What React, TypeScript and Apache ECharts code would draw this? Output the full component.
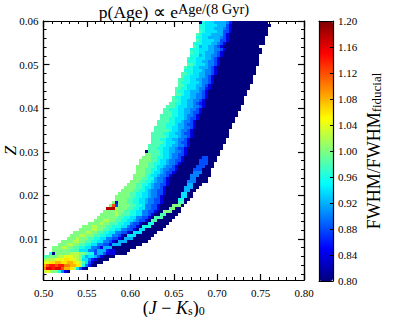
import React, { useEffect, useRef } from "react";
import * as echarts from "echarts";

const FONT = "'Liberation Serif', serif";
const INK = "#000";

const xTicks = { min: 0.5, max: 0.8, interval: 0.05 };
const zRange = { min: 0.0006, max: 0.06 };
const zMajorTicks = [0.01, 0.02, 0.03, 0.04, 0.05, 0.06];
const zMinorTicks = [
  0.002, 0.004, 0.006, 0.008, 0.012, 0.014, 0.016, 0.018, 0.022, 0.024, 0.026, 0.028,
  0.032, 0.034, 0.036, 0.038, 0.042, 0.044, 0.046, 0.048, 0.052, 0.054, 0.056, 0.058,
];
const ratioTicks = { min: 0.8, max: 1.2, interval: 0.04 };
const jet = ["#00007f", "#0000ff", "#007fff", "#00ffff", "#7fff7f", "#ffff00", "#ff7f00", "#ff0000", "#7f0000"];

// FWHM ratio levels: a=0.80, b=0.82, ... u=1.20
const levelCodes = "abcdefghijklmnopqrstu";
const columnCount = 87;
const rowCount = 259 / 3;

// Each row, top to bottom: first filled column, then run-length coded levels.
const rows: [number, string][] = [
  [52, "a1i1h3g4f1d1a12"], [52, "i2h4g3e1c1a13"], [52, "i2h3g3f1e1c1a12"], [52, "j1i1h4g2e2c1a12"],
  [51, "j1i1h3g4e1c1a13"], [51, "i2h2g4f1e1c1a12"], [51, "j1i1h4g2e2c1a12"], [50, "i3h3g2f1e1c1a13"],
  [50, "j1i1g1h2g2f1e1c1a12"], [49, "i3h3g2f2e1c1a12"], [49, "j1i2h2g3f1e1c1a13"], [49, "i3g1h1g2f2e1c1a12"],
  [48, "j1i2h3g2f1e1c1a13"], [48, "i3h2g2f2e1c1a13"], [48, "j2i1h3g1f2e1c1a13"], [47, "j1i2h2g3f1e1c1a13"],
  [47, "i3h3g1f2e1c1a13"], [46, "j2i2h2g2f2e1c1a13"], [46, "j1i2h3g2f1e1c1a13"], [45, "j2i2h2g2f2e1c1a13"],
  [45, "j1i3h3g1f2e1c1a13"], [45, "j2i1h3g2f1e1c1a13"], [44, "j2i2h3g1f2d1c1a13"], [44, "j1i2h2g3f1e1c1a13"],
  [44, "j2i1h2g2f2e1c1a13"], [43, "j1i2h3g2f2e1c1a12"], [43, "j2i1h2g2f2e1c1a13"], [42, "j2i2h2g2f1e1d1c1a13"],
  [41, "j3i1h3g2f2e1c1a12"], [40, "j2i3h2g2f2e1c1a13"], [40, "j3i2h2g2f1e2c1a12"], [39, "j4i2h2g1f2e1c1a13"],
  [39, "j3i2h3g1f1e2c1a12"], [38, "j4i2h2g1f2e1c1a13"], [38, "j3i3h1g2f1e2c1a12"], [37, "j4i2h2g2f2e1c1a12"],
  [37, "j5i1h2g1f2e1c1a12"], [36, "j4i2h2g2f1e2c1a12"], [36, "j5i1h3g1f2e1c1a12"], [36, "j3i2h2g2f2e1c1a12"],
  [36, "j4i1h3g1f1e2c1a12"], [35, "j4i2h2g2f2e1c1a11"], [35, "j3i2h2g2f1e2c1a12"], [34, "a1j4i1h2g2f2e1c1a11"],
  [34, "k2j3i1h2g1f2e2c1a11"], [33, "k3j2i2h2g1f2e1c1a6e2a3"], [32, "k4j2i1h2g1f2e2c1a5e3a3"], [32, "k3j2i2h2g1f2e1c1a6e3a2"],
  [31, "k4j2i1h2g1f2e1c1a6e3a3"], [31, "k3j2i2h1g1f2e2c1a5e3a3"], [31, "k3j2i1h2g1f1e2c1a6f3a3"], [30, "k4j1i1h2g1f2e1c1a6f3a4"],
  [30, "k3j2i2g1f2e1c1a7f2a4"], [29, "k3j2i2h1g1f2e1c1a6f3a4"], [28, "k3j2i2h1g1f2e2c1a6g2a3"], [27, "k4j2i1h2g1f2e1c1a6g3a2"],
  [26, "k4j2i2h1g1f2e2c1a6g2a2"], [25, "k4j2i2h2g1f2e2c1a5h2a2"], [24, "k5j2i2h2g1f2e1c1a6h2a2"], [24, "k4j2i2h2g1f2e2c1a5i2a2"],
  [23, "k1c1k3j2i2h2g1f2e2c1a5j2a1"], [22, "k1q1e1k4j2i2h1f2e2c1a4k3a1"], [21, "t3l1k3j2i2h2f2e2c1a3k2a2"], [20, "k4l1k2j2i2h2f2e2c1a2k3a3"],
  [19, "k5l1k1j3i2h2f2e1c1a2j2a4"], [18, "k7j2i2h2f2e2c1a1j3a4"], [17, "k3l2k2j2i2h2g1f1e2c1a1j2a5"], [15, "k4l1k2j3i2h2f1e2c1a2i2a5"],
  [13, "k3l2k3j2i3h2f1e2c1a1i3a5"], [12, "k4l2k2j2i2h2f2e2c1a1h2a6"], [10, "k4l2k2j2i2h2f2e2c1a1h3a5"], [9, "k3l2k3j2i2h2f2e1c1a1h3a6"],
  [8, "k3l1k3j2i2h2f2e2c1a1g3a6"], [6, "k4l2k2j2i2h2f2e1c1a1g3a7"], [5, "k3l2k2j2i2h2f2e2c1g3a7"], [3, "k3l2k2j2i2h2f2e1c1g3a8"],
  [3, "k6j3h3f2e1g3d1c2a5"], [2, "i1a1k5l3k2j1i2e1g2e1c3a4"], [0, "j2k3l2m3l2k1i1g1h2g1e1c1a4"], [0, "k1l3m3n2m2l1k1h2f1d1c1a4"],
  [0, "m2n2o2n2o2n1m1l1j1h1e1c1a3"], [0, "o1q1r2q1r2p2o2n1l1i1f1d1a2"], [0, "p1s2r1s2q1o2n1l1h1e1b1a1"], [0, "l1m1l1k2i1f1c1a1"],
];

const cells: number[][] = [];
rows.forEach(([start, code], rowIndex) => {
  let col = start;
  for (const [, letter, run] of code.matchAll(/([a-u])(\d+)/g)) {
    for (let n = 0; n < Number(run); n++) {
      cells.push([col, rowIndex, ratioTicks.min + levelCodes.indexOf(letter) * 0.02]);
      col++;
    }
  }
});

const dx = (xTicks.max - xTicks.min) / columnCount;
const dz = (zRange.max - zRange.min) / rowCount;
const heatData = cells.map(([c, r, v]) => [xTicks.min + c * dx, zRange.max - r * dz, v]);

const labelStyle = { fontFamily: FONT, color: INK, fontSize: 11 };
const lineStyle = { color: INK, width: 1.2 };

function frameAxis(extra: any) {
  return {
    nameMoveOverlap: false,
    axisLine: { show: true, onZero: false, lineStyle },
    splitLine: { show: false },
    minorSplitLine: { show: false },
    ...extra,
  };
}

export default function App() {
  const ref = useRef<HTMLDivElement>(null);
  useEffect(() => {
    const chart = echarts.init(ref.current!, null, { renderer: "svg" });
    const tick = { show: true, inside: true, length: 6, lineStyle: { color: INK, width: 1.2, opacity: 1 } };
    const minorLine = { color: INK, width: 1, opacity: 1 };
    const minor = { show: true, splitNumber: 5, length: 3, lineStyle: minorLine };
    const xBase = { type: "value", gridIndex: 0, ...xTicks, axisTick: tick, minorTick: minor };
    const zBase = {
      type: "value",
      gridIndex: 0,
      ...zRange,
      axisTick: { ...tick, customValues: zMajorTicks },
    };
    const zMinorAxis = (position: string) =>
      frameAxis({
        type: "value",
        gridIndex: 0,
        ...zRange,
        position,
        axisLabel: { show: false },
        axisTick: { show: true, inside: true, length: 3, lineStyle: minorLine, customValues: zMinorTicks },
      });
    chart.setOption({
      animation: false,
      backgroundColor: "#fff",
      title: {
        text: "{a|p(Age) ∝ e}{b|Age/(8 Gyr)}",
        left: 174,
        top: 1,
        textAlign: "center",
        padding: 0,
        textStyle: {
          fontFamily: FONT,
          fontWeight: "normal",
          rich: {
            a: { fontFamily: FONT, fontWeight: "normal", fontSize: 17.5, color: INK, lineHeight: 20, verticalAlign: "bottom" },
            b: { fontFamily: FONT, fontWeight: "normal", fontSize: 14.5, color: INK, lineHeight: 14, verticalAlign: "top" },
          },
        },
      },
      grid: [
        { left: 43.5, top: 21, width: 260.5, height: 259, containLabel: false, outerBoundsMode: "none" },
        { left: 319, top: 21, width: 14, height: 260, containLabel: false, outerBoundsMode: "none" },
      ],
      xAxis: [
        frameAxis({
          ...xBase,
          position: "bottom",
          axisLabel: { ...labelStyle, margin: 7, formatter: (v: number) => v.toFixed(2) },
          name: "{p|(}{i|J}{p| − }{i|K}{s|s}{p|)}{s|0}",
          nameLocation: "middle",
          nameGap: 17,
          nameTextStyle: {
            rich: {
              p: { fontFamily: FONT, fontSize: 18, color: INK, verticalAlign: "bottom", lineHeight: 20 },
              i: { fontFamily: FONT, fontSize: 18, fontStyle: "italic", color: INK, verticalAlign: "bottom", lineHeight: 20 },
              s: { fontFamily: FONT, fontSize: 12, color: INK, verticalAlign: "bottom", lineHeight: 16 },
            },
          },
        }),
        frameAxis({ ...xBase, position: "top", axisLabel: { show: false } }),
        frameAxis({ type: "value", gridIndex: 1, min: 0, max: 1, position: "bottom", axisTick: { show: false }, axisLabel: { show: false }, z: 10 }),
        frameAxis({ type: "value", gridIndex: 1, min: 0, max: 1, position: "top", axisTick: { show: false }, axisLabel: { show: false }, z: 10 }),
      ],
      yAxis: [
        frameAxis({
          ...zBase,
          position: "left",
          axisLabel: {
            ...labelStyle,
            margin: 5,
            customValues: zMajorTicks,
            formatter: (v: number) => v.toFixed(2),
          },
          name: "Z",
          nameLocation: "middle",
          nameGap: 25,
          nameTextStyle: { fontFamily: FONT, fontSize: 17, lineHeight: 17, fontStyle: "italic", color: INK },
        }),
        frameAxis({ ...zBase, position: "right", axisLabel: { show: false } }),
        frameAxis({
          type: "value",
          gridIndex: 1,
          ...ratioTicks,
          position: "right",
          z: 10,
          axisTick: { show: true, inside: true, length: 3, lineStyle: { color: INK, width: 1 } },
          axisLabel: { ...labelStyle, margin: 5, formatter: (v: number) => v.toFixed(2) },
          name: "{a|FWHM/FWHM}{b|fiducial}",
          nameLocation: "middle",
          nameRotate: 90,
          nameGap: 30,
          nameTextStyle: {
            rich: {
              a: { fontFamily: FONT, fontSize: 18, color: INK, verticalAlign: "bottom", lineHeight: 20 },
              b: { fontFamily: FONT, fontSize: 13, color: INK, verticalAlign: "bottom", lineHeight: 16 },
            },
          },
        }),
        frameAxis({ type: "value", gridIndex: 1, ...ratioTicks, position: "left", z: 10, axisTick: { show: false }, axisLabel: { show: false } }),
        zMinorAxis("left"),
        zMinorAxis("right"),
      ],
      visualMap: {
        type: "continuous",
        seriesIndex: 0,
        dimension: 2,
        min: ratioTicks.min,
        max: ratioTicks.max,
        left: 319,
        top: 21,
        padding: 0,
        itemWidth: 14,
        itemHeight: 260,
        calculable: false,
        hoverLink: false,
        realtime: false,
        showLabel: false,
        text: null,
        inRange: { color: jet },
      },
      series: [
        {
          type: "custom",
          xAxisIndex: 0,
          yAxisIndex: 0,
          encode: { x: 0, y: 1 },
          data: heatData,
          silent: true,
          clip: true,
          z: 1,
          renderItem: (_: any, api: any) => {
            const a = api.coord([api.value(0), api.value(1)]);
            const b = api.coord([api.value(0) + dx, api.value(1) - dz]);
            const x0 = Math.round(a[0]);
            const y0 = Math.round(a[1]);
            return {
              type: "rect",
              shape: { x: x0, y: y0, width: Math.round(b[0]) - x0, height: Math.round(b[1]) - y0 },
              style: { fill: api.visual("color") },
            };
          },
        },
      ],
    });
    return () => chart.dispose();
  }, []);
  return <div ref={ref} style={{ position: "fixed", left: 0, top: 0, width: 399, height: 317 }} />;
}
